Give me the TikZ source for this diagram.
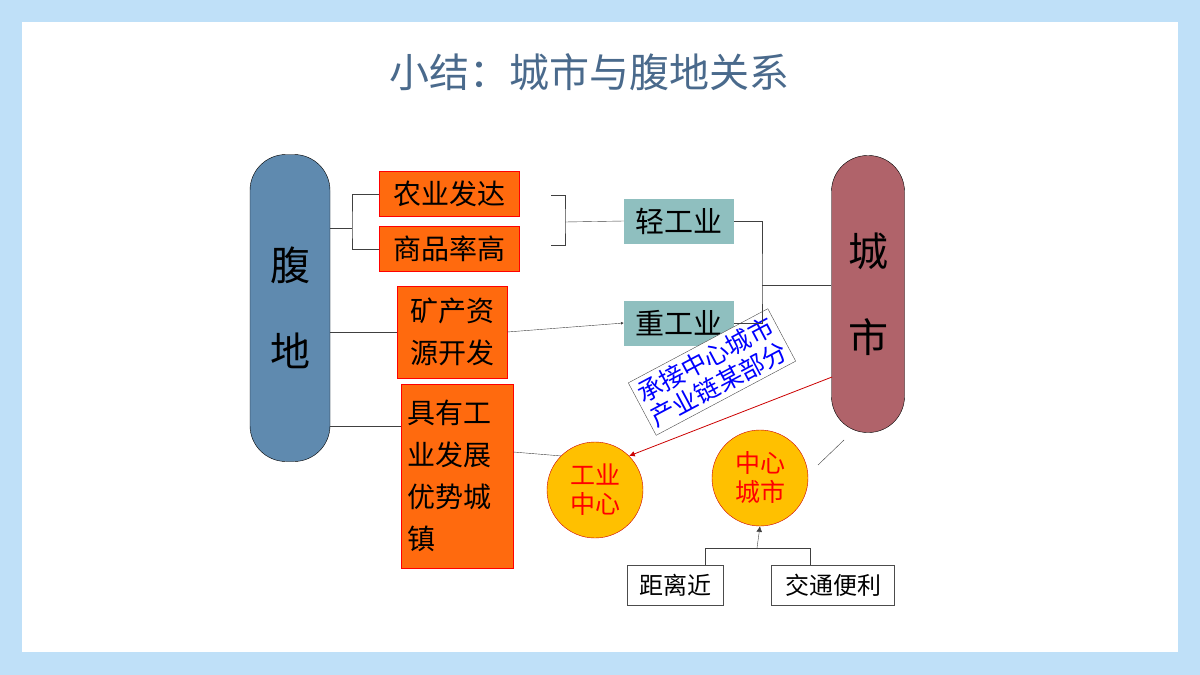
\documentclass[tikz,border=0pt]{standalone}
\usepackage{fontspec}
\setmainfont{Noto Sans CJK SC}
\usetikzlibrary{positioning}
\usetikzlibrary{arrows.meta}
\tikzset{>={Latex[width=2mm,length=2mm]}}
\definecolor{titleblue}{HTML}{4A6A8C}
\definecolor{hinter}{HTML}{5F8AAF}
\definecolor{city}{HTML}{B0636A}
\definecolor{orangebox}{HTML}{FF6A0E}
\definecolor{industry}{HTML}{8FBFBF}
\definecolor{circ}{HTML}{FFC000}
\definecolor{frame}{HTML}{BFE0F8}

\begin{document}
\begin{tikzpicture}[x=1pt,y=-1pt,
    pillar/.style={draw=black, rounded corners=36pt, font=\fontsize{40}{46}\selectfont, align=center},
    factor/.style={draw=red, fill=orangebox, font=\fontsize{28}{42}\selectfont, inner sep=3pt},
    ind/.style={fill=industry, font=\fontsize{29}{32}\selectfont, minimum width=110pt, minimum height=45pt},
    centre/.style={circle, draw=red!80!black, fill=circ, text=red, minimum size=96pt, align=center, font=\fontsize{25}{29}\selectfont},
    cond/.style={draw=black!70, font=\fontsize{24}{28}\selectfont, minimum height=40pt},
    link/.style={draw=black!75, thin} ]

    %Background
    \fill[frame] (0,0) rectangle (1200,675);
    \fill[white] (22,22) rectangle (1178,652);
    \useasboundingbox (0,0) rectangle (1200,675);
    \node[text=titleblue, font=\fontsize{40}{46}\selectfont] (title) at (589,72) {小结：城市与腹地关系};

    %Nodes
    \node[pillar, fill=hinter, minimum width=80pt, minimum height=307pt] (fudi) at (290,308) {腹\\[40pt]地};
    \node[pillar, fill=city, minimum width=73pt, minimum height=277pt] (chengshi) at (868,294) {城\\[40pt]市};
    \node[factor, minimum width=140pt, minimum height=45pt] (nongye) at (449,194) {农业发达};
    \node[factor, minimum width=140pt, minimum height=45pt] (shangpin) at (449,249) {商品率高};
    \node[factor, minimum width=110pt, minimum height=92pt, align=left] (kuangchan) at (452,332) {矿产资\\源开发};
    \node[factor, minimum width=112pt, minimum height=184pt, align=left, text width=100pt] (youshi) at (457,476) {具有工\\业发展\\优势城\\镇};
    \node[ind] (qing) at (679,221) {轻工业};
    \node[ind] (zhong) at (679,323) {重工业};
    \node[centre] (gyzx) at (595,490) {工业\\中心};
    \node[centre] (zxcs) at (760,478) {中心\\城市};
    \node[cond, minimum width=96pt] (juli) at (675,585) {距离近};
    \node[cond, minimum width=123pt] (jiaotong) at (833,585) {交通便利};
    \node[draw=black!70, fill=white, rotate=28, text=blue, align=center,
          font=\fontsize{25}{28}\selectfont, inner sep=4pt] (chengjie) at (712,372) {承接中心城市\\产业链某部分};
    \coordinate (brl) at (352,228);
    \coordinate (brr) at (565,222);
    \coordinate (bri) at (762,285);
    \coordinate (brd) at (757,548);
    \coordinate (brdl) at (705,548);
    \coordinate (brdr) at (810,548);
    \coordinate (redstart) at (832,377);
    \coordinate (zxtail) at (818,465);
    \coordinate (cstail) at (844,440);

    %Lines
    \draw[link] (fudi.east |- brl) -- (brl);
    \draw[link] (nongye.west) -| (brl) |- (shangpin.west);
    \draw[link] (551,195) -| (brr) |- (551,245);
    \draw[link] (brr) -- (qing.west);
    \draw[link] (qing.east) -| (bri) |- (zhong.east);
    \draw[link] (bri) -- (chengshi.west |- bri);
    \draw[link] (fudi.east |- kuangchan.west) -- (kuangchan.west);
    \draw[link, -{Latex[width=1mm,length=1mm]}] (kuangchan.east) -- (zhong.west);
    \draw[link] (fudi.east |- 0,426) -- (youshi.west |- 0,426);
    \draw[link] (youshi.east |- 0,452) -- (gyzx.north west);
    \draw[link] (zxtail) -- (cstail);
    \draw[->, red!80!black, thick] (redstart) -- (gyzx.north east);
    \draw[link] (juli.north -| brdl) -- (brdl) -- (brdr) -- (jiaotong.north -| brdr);
    \draw[link, ->] (brd) -- (zxcs.south);
\end{tikzpicture}
\end{document}
